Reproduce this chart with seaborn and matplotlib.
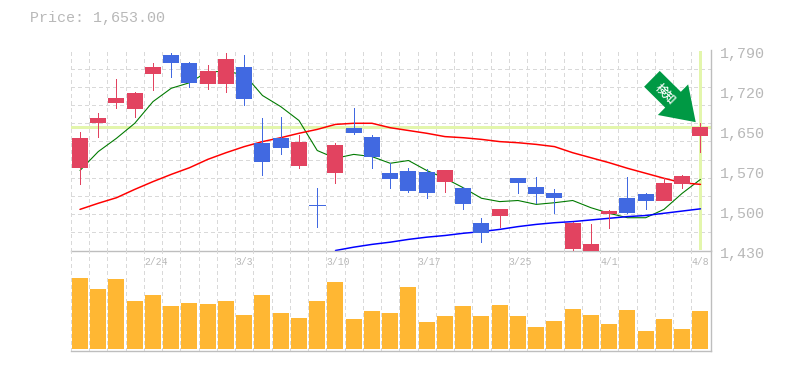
import numpy as np
import pandas as pd
import seaborn as sns
import matplotlib
matplotlib.use("Agg")
import matplotlib.pyplot as plt
from matplotlib.ticker import FixedLocator, NullLocator, NullFormatter
from matplotlib.transforms import ScaledTranslation, blended_transform_factory

highs = [1644,1677,1738,1716,1768,1786,1770,1763,1786,1781,1669,1671,1637,1542,1623,1686,1637,1587,1578,1576,1574,1545,1488,1504,1560,1563,1540,1482,1477,1502,1563,1534,1561,1565,1660]
tops = [1633,1669,1704,1713,1761,1781,1768,1754,1774,1761,1624,1632,1626,1511,1619,1650,1635,1569,1574,1572,1574,1542,1480,1504,1560,1545,1534,1480,1441,1502,1524,1531,1551,1565,1653]
bottoms = [1579,1660,1695,1684,1747,1767,1731,1729,1729,1702,1590,1615,1583,1511,1569,1641,1599,1558,1538,1534,1554,1513,1462,1493,1551,1531,1525,1432,1428,1495,1498,1520,1520,1549,1637]
lows = [1549,1635,1687,1671,1718,1743,1725,1720,1716,1691,1565,1603,1579,1473,1551,1639,1579,1542,1536,1525,1536,1504,1446,1473,1534,1516,1498,1430,1428,1471,1498,1504,1520,1543,1608]
rising = [1,1,1,1,1,0,0,1,1,0,0,0,1,0,1,0,0,0,0,0,1,0,0,1,0,0,0,1,1,1,0,0,1,1,1]
ma_short = [1574,1608,1632,1659,1698,1722,1732,1752,1752,1747,1709,1689,1664,1610,1596,1603,1599,1587,1592,1574,1560,1543,1524,1518,1520,1513,1516,1520,1507,1497,1489,1489,1504,1533,1558]
ma_mid = [1504,1515,1525,1540,1554,1567,1579,1594,1606,1617,1626,1633,1641,1648,1657,1659,1659,1651,1646,1641,1635,1633,1630,1626,1624,1621,1617,1606,1597,1588,1578,1569,1560,1552,1549]
ma_long = [np.nan]*14 + [1430,1436,1441,1445,1450,1454,1457,1461,1464,1468,1473,1477,1480,1482,1485,1488,1491,1493,1497,1501,1505]
volumes = [7100,6000,7000,4800,5400,4300,4600,4500,4800,3400,5400,3600,3100,4800,6700,3000,3800,3600,6200,2700,3300,4300,3300,4400,3300,2200,2800,4000,3400,2500,3900,1800,3000,2000,3800]
price_now = 1653
price_labels = ["1,430","1,500","1,570","1,650","1,720","1,790"]
date_labels = {4:"2/24",9:"3/3",14:"3/10",19:"3/17",24:"3/25",29:"4/1",34:"4/8"}
title = "Price: 1,653.00"
badge = "検知"

RED, BLUE, ORANGE = "#E24360", "#4169E1", "#FFB733"
GRID, AXIS, TEXT = "#D9D9D9", "#BEBEBE", "#B8B8B8"
HILITE, ARROW = "#E3F6AC", "#009944"
PX = 0.72  # points per pixel at 100 dpi

sns.set_style("white")
plt.rcParams["font.family"] = ["Liberation Mono", "DejaVu Sans Mono"]

df = pd.DataFrame(dict(i=np.arange(len(volumes)), high=highs, top=tops, bottom=bottoms, low=lows,
                       rising=rising, short=ma_short, mid=ma_mid, long=ma_long, vol=volumes))

W, H = 785, 370
fig = plt.figure(figsize=(W/100, H/100), dpi=100)
ax = fig.add_axes([70.5/W, (H-250.5)/H, 640/W, 200/H])
av = fig.add_axes([70.5/W, (H-350.5)/H, 640/W, 100/H])
XLIM = (-0.52, 34.55)
DASH = (0, (3, 3))

for a in (ax, av):
    a.set_xlim(*XLIM)
    a.set_facecolor("none")
    for s in ("top", "left"):
        a.spines[s].set_visible(False)
    for s in ("right", "bottom"):
        a.spines[s].set_color(AXIS)
        a.spines[s].set_linewidth(1.4*PX)
    a.xaxis.set_minor_locator(FixedLocator(np.arange(35) - 0.5))
    a.xaxis.set_major_locator(NullLocator())
    a.grid(which="minor", axis="x", color=GRID, lw=PX, ls=DASH, antialiased=False)
    a.tick_params(which="both", length=0)
    a.set_axisbelow(True)

# price panel
ax.set_ylim(1430, 1790)
ax.yaxis.set_minor_locator(FixedLocator(np.linspace(1430, 1790, 12)))
ax.yaxis.set_minor_formatter(NullFormatter())
ax.grid(which="minor", axis="y", color=GRID, lw=PX, ls=DASH, antialiased=False)
ax.yaxis.tick_right()
ax.yaxis.set_major_locator(FixedLocator(np.linspace(1430, 1790, 6)))
ax.set_yticklabels(price_labels, fontsize=10.8, color=TEXT)
ax.tick_params(axis="y", which="major", pad=7, length=0)
offset = ScaledTranslation(0, -2/100, fig.dpi_scale_trans)
for lab in ax.get_yticklabels():
    lab.set_transform(lab.get_transform() + offset)

ax.axhline(price_now, color=HILITE, lw=3*PX, zorder=1.5, antialiased=False)
ax.vlines(df.i.iloc[-1], 1432, 1790, color=HILITE, lw=3*PX, zorder=1.5, antialiased=False)

sns.lineplot(data=df, x="i", y="short", ax=ax, color="#007A00", lw=1.1*PX, zorder=2, errorbar=None, legend=False)
sns.lineplot(data=df, x="i", y="mid", ax=ax, color="#FF0000", lw=1.5*PX, zorder=2, errorbar=None, legend=False)
sns.lineplot(data=df, x="i", y="long", ax=ax, color="#0000FF", lw=1.5*PX, zorder=2, errorbar=None, legend=False)

colors = [RED if r else BLUE for r in df.rising]
ax.vlines(df.i, df.low, df.high, colors=colors, lw=PX, zorder=3, antialiased=False)
ax.bar(df.i, df.top - df.bottom, bottom=df.bottom, width=16/18.25, color=colors, zorder=3.1, lw=0, antialiased=False)
doji = df[df.top == df.bottom]
ax.hlines(doji.top, doji.i - 16/18.25/2, doji.i + 16/18.25/2, colors=[BLUE]*len(doji), lw=PX, zorder=3.1, antialiased=False)
ax.set_xlim(*XLIM); ax.set_ylim(1430, 1790)
ax.set_xlabel(""); ax.set_ylabel("")

# signal arrow
ax.annotate("", xy=(33.74, 1661), xytext=(31.34, 1739),
            arrowprops=dict(arrowstyle="simple,head_length=23,head_width=31,tail_width=16",
                            mutation_scale=1, color=ARROW, lw=0, shrinkA=0, shrinkB=0), zorder=5)
ax.text(32.1, 1712, badge, color="white", fontsize=8.5, fontweight="medium", rotation=-45,
        rotation_mode="anchor", ha="center", va="center", zorder=6,
        family=["Noto Sans CJK JP", "DejaVu Sans"])

# volume panel
av.set_ylim(-200, 9800)
sns.barplot(data=df, x="i", y="vol", ax=av, color=ORANGE, saturation=1, width=16/18.25,
            native_scale=True, errorbar=None, zorder=3, lw=0)
av.set_xlim(*XLIM); av.set_ylim(-200, 9800)
av.set_xlabel(""); av.set_ylabel("")
av.set_yticks([])
av.xaxis.set_major_locator(NullLocator())
for b in av.patches:
    b.set_antialiased(False)
tr = blended_transform_factory(av.transData, av.transAxes)
for idx, s in date_labels.items():
    av.text(idx - 0.5, 0.885, s, transform=tr, ha="left", va="center", fontsize=7, color=TEXT)

fig.text(30/W, (H-18)/H, title, fontsize=10.8, color=TEXT, ha="left", va="center")
fig.savefig("out.png", dpi=100)
